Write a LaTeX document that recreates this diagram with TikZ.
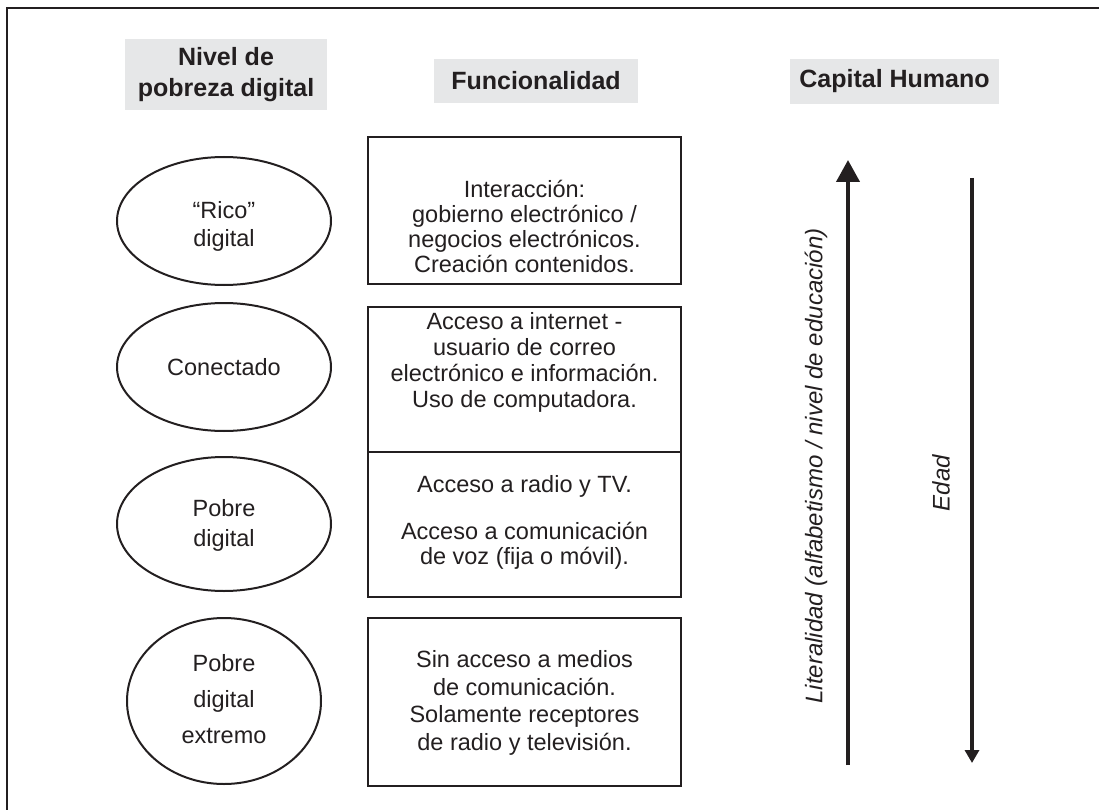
\documentclass[tikz,border=0pt]{standalone}
\usepackage{fontspec}
\setmainfont{Liberation Sans}
\usetikzlibrary{shapes.geometric,arrows.meta}
\definecolor{ink}{HTML}{231F20}
\definecolor{headfill}{HTML}{E6E7E8}
\begin{document}
\begin{tikzpicture}[x=1pt,y=-1pt,
  every node/.style={text=ink},
  head/.style={fill=headfill, inner sep=0, align=center,
    font=\fontsize{25}{31}\selectfont\bfseries},
  level/.style={draw=ink, line width=2pt, ellipse, inner sep=0,
    minimum width=214pt, minimum height=128pt},
  funcbox/.style={draw=ink, line width=2pt, rectangle, inner sep=0,
    minimum width=313pt},
  body/.style={align=center, inner sep=0, font=\fontsize{23.5}{25}\selectfont},
  axis/.style={draw=ink, line width=4pt},
  axislabel/.style={inner sep=0, rotate=90, font=\fontsize{24}{26}\selectfont\itshape},
  frameline/.style={draw=ink, line width=2pt},
]
\useasboundingbox (0,0) rectangle (1099,810);

% outer frame (top and left edges)
\coordinate (fl) at (7,810);
\coordinate (fc) at (7,8);
\coordinate (fr) at (1099,8);
\draw[frameline] (fl) -- (fc) -- (fr);

% column headings
\node[head, minimum width=202pt, minimum height=71pt] (h1) at (226,74.5)
  {Nivel de\\pobreza digital};
\node[head, minimum width=204pt, minimum height=44pt] (h2) at (536,81)
  {Funcionalidad};
\node[head, minimum width=209pt, minimum height=45pt] (h3) at (894.5,81.5)
  {Capital Humano};

% levels of digital poverty
\node[level] (e1) at (224,221) {};
\node[level] (e2) at (224,367) {};
\node[level, minimum height=134pt] (e3) at (224,524) {};
\node[level, minimum width=194pt, minimum height=166pt] (e4) at (224,701) {};

\node[body, font=\fontsize{23.5}{28}\selectfont] (l1) at (224,226) {“Rico”\\digital};
\node[body] (l2) at (224,367) {Conectado};
\node[body, font=\fontsize{23.5}{30}\selectfont] (l3) at (224,525) {Pobre\\digital};
\node[body, font=\fontsize{23.5}{36}\selectfont] (l4) at (224,699) {Pobre\\digital\\extremo};

% functionality boxes
\node[funcbox, minimum height=147pt] (b1) at (524.5,210.5) {};
\node[funcbox, minimum height=145pt] (b2) at (524.5,379.5) {};
\node[funcbox, minimum height=145pt] (b3) at (524.5,524.5) {};
\node[funcbox, minimum height=168pt] (b4) at (524.5,702) {};

\node[body] (t1) at (524.5,226)
  {Interacción:\\gobierno electrónico /\\negocios electrónicos.\\Creación contenidos.};
\node[body, font=\fontsize{23.5}{26}\selectfont] (t2) at (524.5,362)
  {Acceso a internet -\\usuario de correo\\electrónico e información.\\Uso de computadora.};
\node[body] (t3) at (524.5,522)
  {Acceso a radio y TV.\\[22pt]Acceso a comunicación\\de voz (fija o móvil).};
\node[body, font=\fontsize{23.5}{27.7}\selectfont] (t4) at (524.5,703)
  {Sin acceso a medios\\de comunicación.\\Solamente receptores\\de radio y televisión.};

% human capital axes
\coordinate (litA) at (848,765);
\coordinate (litB) at (848,160);
\draw[axis, -{Triangle[width=23pt,length=22pt]}] (litA) -- (litB);
\node[axislabel] (lit) at (816,466)
  {Literalidad (alfabetismo / nivel de educación)};

\coordinate (ageA) at (972,178);
\coordinate (ageB) at (972,763);
\draw[axis, -{Triangle[width=14pt,length=13pt]}] (ageA) -- (ageB);
\node[axislabel] (age) at (941,483) {Edad};
\end{tikzpicture}
\end{document}
